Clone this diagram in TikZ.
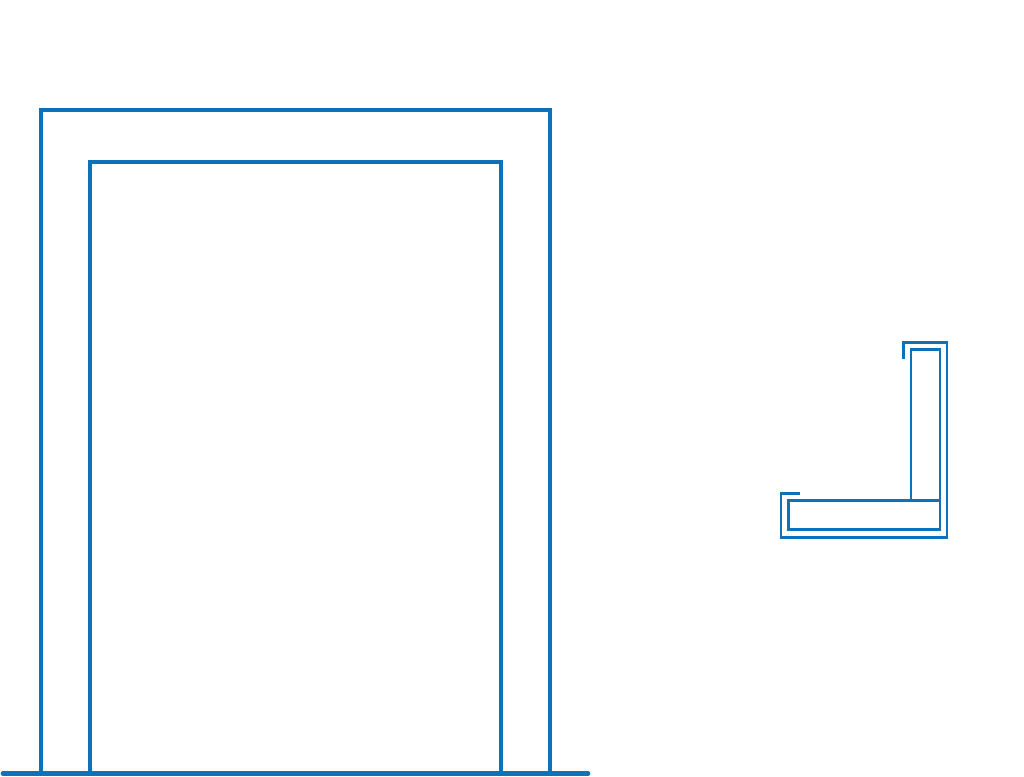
\documentclass[tikz,border=0pt]{standalone}

\definecolor{frameblue}{RGB}{15,113,184}
\tikzset{every picture/.style={line width=0.75pt}}
\tikzset{doorline/.style={draw=frameblue,line width=3pt,line join=miter}}
\tikzset{profileline/.style={draw=frameblue,line width=1.9pt,line join=miter}}

\begin{document}
\begin{tikzpicture}[x=0.75pt,y=0.75pt,yscale=-1]
\useasboundingbox (0,0) rectangle (1024,776);

%Door frame outer
\draw [doorline] (41,773) -- (41,109.5) -- (549.5,109.5) -- (549.5,773) ;
%Door frame inner
\draw [doorline] (89.5,773) -- (89.5,162) -- (501,162) -- (501,773) ;
%Floor
\draw [doorline,line width=3.5pt,line cap=round] (3,773.5) -- (588,773.5) ;

%Profile cover
\draw [profileline] (903.7,358.5) -- (903.7,342.3) -- (947,342.3) -- (947,537.5) -- (781.2,537.5) -- (781.2,493.6) -- (800,493.6) ;
%Profile vertical leg
\draw [profileline] (911,500.3) -- (911,349.3) -- (940,349.3) -- (940,500.3) ;
%Profile horizontal leg
\draw [profileline] (788.5,500.3) -- (940,500.3) -- (940,529.5) -- (788.5,529.5) -- cycle ;

\end{tikzpicture}
\end{document}
